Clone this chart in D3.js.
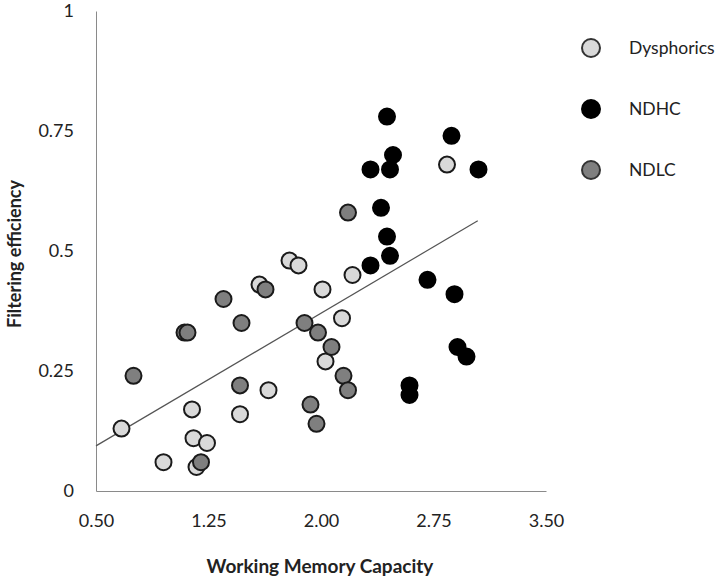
<!DOCTYPE html>
<html>
<head>
<meta charset="utf-8">
<script src="https://cdn.jsdelivr.net/npm/d3@7"></script>
<style>
  body { margin: 0; background: #fff; }
  text { font-family: Lato, "Open Sans", sans-serif; fill: #222; }
</style>
</head>
<body>
<svg class="svg" width="720" height="578"></svg>
<script>
// groups, drawn in this order
const groups = ["Dysphorics", "NDHC", "NDLC"];

// [working memory capacity, filtering efficiency]
const dysphorics = [
    [0.67, 0.13], [0.95, 0.06], [1.17, 0.05], [1.15, 0.11], [1.24, 0.10],
    [1.14, 0.17], [1.46, 0.16], [1.65, 0.21], [1.59, 0.43], [1.79, 0.48],
    [1.85, 0.47], [2.01, 0.42], [2.03, 0.27], [2.14, 0.36], [2.21, 0.45],
    [2.84, 0.68]
];
const ndhc = [
    [2.44, 0.78], [2.87, 0.74], [2.48, 0.70], [2.33, 0.67], [2.46, 0.67],
    [3.05, 0.67], [2.40, 0.59], [2.44, 0.53], [2.46, 0.49], [2.33, 0.47],
    [2.71, 0.44], [2.89, 0.41], [2.91, 0.30], [2.97, 0.28], [2.59, 0.22],
    [2.59, 0.20]
];
const ndlc = [
    [0.75, 0.24], [1.09, 0.33], [1.11, 0.33], [1.20, 0.06], [1.35, 0.40],
    [1.47, 0.35], [1.46, 0.22], [1.63, 0.42], [1.89, 0.35], [1.98, 0.33],
    [2.07, 0.30], [1.93, 0.18], [1.97, 0.14], [2.15, 0.24], [2.18, 0.21],
    [2.18, 0.58]
];

// linear trend line, start and end
const trend = [[0.5, 0.094], [3.045, 0.563]];

const xTicks = [0.5, 1.25, 2.0, 2.75, 3.5];
const yTicks = [0, 0.25, 0.5, 0.75, 1];
const yTickLabels = ["0", "0.25", "0.5", "0.75", "1"];

const fills = { Dysphorics: "#d9d9d9", NDHC: "#000", NDLC: "#7f7f7f" };
const seriesData = { Dysphorics: dysphorics, NDHC: ndhc, NDLC: ndlc };

const svg = d3.select(".svg");

const x = d3.scaleLinear().domain([0.5, 3.5]).range([96, 546]);
const y = d3.scaleLinear().domain([0, 1]).range([491, 11]);

// x axis
const gx = svg.append("g")
    .attr("transform", `translate(0,${y(0)})`)
    .call(d3.axisBottom(x).tickValues(xTicks).tickFormat(d3.format(".2f"))
        .tickSize(0).tickPadding(23));
// y axis
const gy = svg.append("g")
    .attr("transform", `translate(${x(0.5)},0)`)
    .call(d3.axisLeft(y).tickValues(yTicks).tickFormat((d, i) => yTickLabels[i])
        .tickSize(0).tickPadding(22));

[gx, gy].forEach(g => {
    g.select(".domain").attr("stroke", "#8a8a8a").attr("stroke-width", 1);
    g.selectAll("text").attr("font-size", 18).attr("fill", "#2a2a2a")
        .attr("font-family", "Lato, 'Open Sans', sans-serif");
});

// axis titles
svg.append("text")
    .attr("x", 320).attr("y", 573)
    .attr("text-anchor", "middle")
    .attr("font-size", 19).attr("font-weight", "bold")
    .text("Working Memory Capacity");

svg.append("text")
    .attr("transform", "translate(21,254) rotate(-90)")
    .attr("text-anchor", "middle")
    .attr("font-size", 18).attr("font-weight", "bold")
    .text("Filtering efficiency");

// trend line
svg.append("path")
    .datum(trend)
    .attr("d", d3.line().x(d => x(d[0])).y(d => y(d[1])))
    .attr("stroke", "#555")
    .attr("stroke-width", 1.2)
    .attr("fill", "none");

// points
groups.forEach(name => {
    svg.append("g").selectAll("circle")
        .data(seriesData[name])
        .enter()
        .append("circle")
        .attr("cx", d => x(d[0]))
        .attr("cy", d => y(d[1]))
        .attr("r", 8)
        .attr("fill", fills[name])
        .attr("stroke", name === "NDHC" ? "#000" : "#1a1a1a")
        .attr("stroke-width", 2);
});

// legend
const legend = svg.append("g").selectAll("g")
    .data(groups)
    .enter()
    .append("g")
    .attr("transform", (d, i) => `translate(591,${48 + i * 61})`);

legend.append("circle")
    .attr("r", 9)
    .attr("fill", d => fills[d])
    .attr("stroke", d => d === "NDHC" ? "#000" : "#333")
    .attr("stroke-width", 2);

legend.append("text")
    .attr("x", 38).attr("dy", "0.35em")
    .attr("font-size", 17.5)
    .text(d => d);
</script>
</body>
</html>
